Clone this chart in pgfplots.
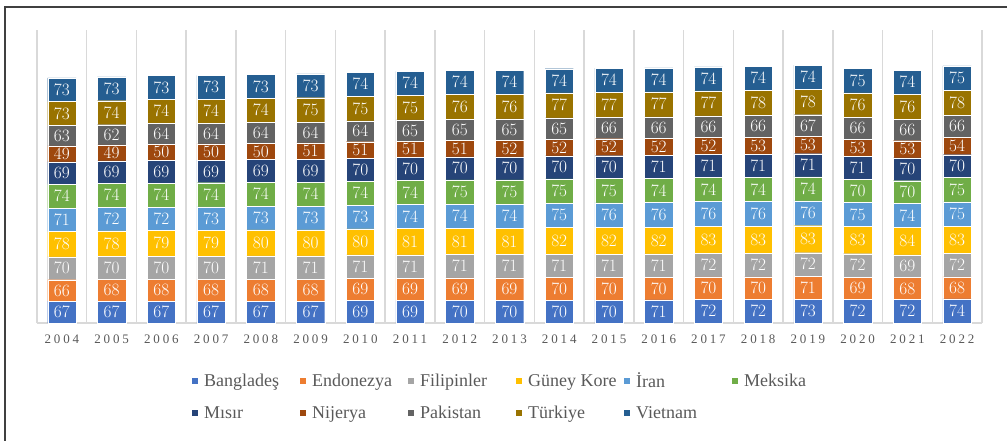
\documentclass[border=0pt]{standalone}
\usepackage{fontspec}
\setmainfont{Liberation Serif}
\newfontfamily\yearfont[LetterSpace=22]{Liberation Serif}
\usepackage{pgfplots}
\usepackage{pgfplotstable}
\pgfplotsset{compat=1.18}

\definecolor{cBan}{HTML}{4472C4}
\definecolor{cEnd}{HTML}{ED7D31}
\definecolor{cFil}{HTML}{A5A5A5}
\definecolor{cGun}{HTML}{FFC000}
\definecolor{cIra}{HTML}{5B9BD5}
\definecolor{cMek}{HTML}{70AD47}
\definecolor{cMis}{HTML}{264478}
\definecolor{cNij}{HTML}{9E480E}
\definecolor{cPak}{HTML}{636363}
\definecolor{cTur}{HTML}{997300}
\definecolor{cVie}{HTML}{255E91}
\definecolor{txtgray}{HTML}{595959}
\definecolor{gridgray}{HTML}{D9D9D9}

% x = position of the year, one column per country
\pgfplotstableread{
x  yr   ban end fil gun ira mek mis nij pak tur vie
0  2004 67  66  70  78  71  74  69  49  63  73  73
1  2005 67  68  70  78  72  74  69  49  62  74  73
2  2006 67  68  70  79  72  74  69  50  64  74  73
3  2007 67  68  70  79  73  74  69  50  64  74  73
4  2008 67  68  71  80  73  74  69  50  64  74  73
5  2009 67  68  71  80  73  74  69  51  64  75  73
6  2010 69  69  71  80  73  74  70  51  64  75  74
7  2011 69  69  71  81  74  74  70  51  65  75  74
8  2012 70  69  71  81  74  75  70  51  65  76  74
9  2013 70  69  71  81  74  75  70  52  65  76  74
10 2014 70  70  71  82  75  75  70  52  65  77  74
11 2015 70  70  71  82  76  75  70  52  66  77  74
12 2016 71  70  71  82  76  74  71  52  66  77  74
13 2017 72  70  72  83  76  74  71  52  66  77  74
14 2018 72  70  72  83  76  74  71  53  66  78  74
15 2019 73  71  72  83  76  74  71  53  67  78  74
16 2020 72  69  72  83  75  70  71  53  66  76  75
17 2021 72  68  69  84  74  70  70  53  66  76  74
18 2022 74  68  72  83  75  75  70  54  66  78  75
}\data

\begin{document}
\begin{tikzpicture}
\path[use as bounding box] (0,0) rectangle (1007pt,-441pt);
\draw[black!75, line width=1.5pt] (5pt,-441pt) -- (5pt,-7pt) -- (1007pt,-7pt);
\begin{axis}[
    at={(37pt,-323pt)}, anchor=south west,
    scale only axis, width=945pt, height=293pt,
    ybar stacked, bar width=0.57,
    xmin=-0.5, xmax=18.5, ymin=0, ymax=900,
    axis y line=none, axis x line=bottom,
    x axis line style={-, draw=gridgray, line width=1.5pt},
    xtick={0,...,18},
    xticklabels={2004,2005,2006,2007,2008,2009,2010,2011,2012,2013,2014,2015,2016,2017,2018,2019,2020,2021,2022},
    xticklabel style={font=\yearfont\fontsize{13}{13}\selectfont, text=txtgray, yshift=-8pt},
    major tick length=0pt, minor tick length=0pt,
    minor xtick={-0.5,0.5,...,18.5}, xminorgrids=true,
    minor grid style={draw=gridgray, line width=1.5pt},
    nodes near coords,
    every node near coord/.append style={font=\fontsize{16}{16}\selectfont, text=white,
        anchor=center, inner sep=0pt},
    legend columns=6,
    legend style={at={(axis description cs:0.164,-0.17)}, anchor=north west,
        draw=none, fill=none, inner sep=0pt, row sep=17pt,
        font=\fontsize{18}{18}\selectfont, text=txtgray,
        nodes={inner sep=0pt},
        /tikz/every odd column/.append style={column sep=6pt}},
    legend image code/.code={\fill[#1, draw=none] (0pt,-3pt) rectangle (6pt,3pt);},
]
\addplot[fill=cBan, draw=white, line width=0.3pt] table[x=x, y=ban] {\data};
\addlegendentry{\makebox[96pt][l]{Bangladeş}}
\addplot[fill=cEnd, draw=white, line width=0.3pt] table[x=x, y=end] {\data};
\addlegendentry{\makebox[96pt][l]{Endonezya}}
\addplot[fill=cFil, draw=white, line width=0.3pt] table[x=x, y=fil] {\data};
\addlegendentry{\makebox[96pt][l]{Filipinler}}
\addplot[fill=cGun, draw=white, line width=0.3pt] table[x=x, y=gun] {\data};
\addlegendentry{\makebox[96pt][l]{Güney Kore}}
\addplot[fill=cIra, draw=white, line width=0.3pt] table[x=x, y=ira] {\data};
\addlegendentry{\makebox[96pt][l]{İran}}
\addplot[fill=cMek, draw=white, line width=0.3pt] table[x=x, y=mek] {\data};
\addlegendentry{\makebox[96pt][l]{Meksika}}
\addplot[fill=cMis, draw=white, line width=0.3pt] table[x=x, y=mis] {\data};
\addlegendentry{\makebox[96pt][l]{Mısır}}
\addplot[fill=cNij, draw=white, line width=0.3pt] table[x=x, y=nij] {\data};
\addlegendentry{\makebox[96pt][l]{Nijerya}}
\addplot[fill=cPak, draw=white, line width=0.3pt] table[x=x, y=pak] {\data};
\addlegendentry{\makebox[96pt][l]{Pakistan}}
\addplot[fill=cTur, draw=white, line width=0.3pt] table[x=x, y=tur] {\data};
\addlegendentry{\makebox[96pt][l]{Türkiye}}
\addplot[fill=cVie, draw=white, line width=0.3pt] table[x=x, y=vie] {\data};
\addlegendentry{\makebox[96pt][l]{Vietnam}}
\end{axis}
\end{tikzpicture}
\end{document}
